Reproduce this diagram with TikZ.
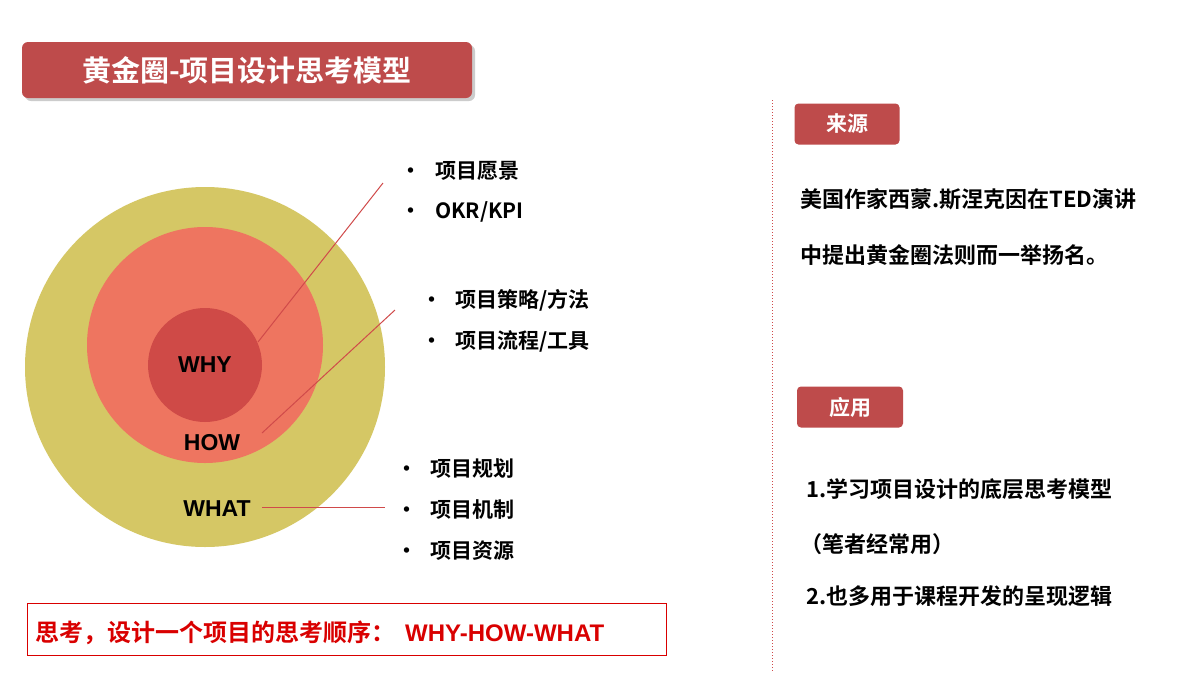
\documentclass[tikz,border=0pt]{standalone}
\usepackage{fontspec}
\setmainfont{Noto Sans CJK SC}[BoldFont={* Bold}]
\newfontfamily\cjkb{Noto Sans CJK SC Bold}
\newfontfamily\latb{Liberation Sans Bold}
\definecolor{dred}{HTML}{BE4B4B}
\definecolor{gold}{HTML}{D5C765}
\definecolor{salmon}{HTML}{EE7560}
\definecolor{core}{HTML}{CF4A47}
\definecolor{lred}{HTML}{D04A4A}
\begin{document}
\begin{tikzpicture}[x=1pt,y=-1pt,
  btn/.style={draw=none,fill=dred,rounded corners=4pt,text=white,font=\cjkb\fontsize{21}{24}\selectfont,inner sep=0pt},
  lbl/.style={font=\latb\fontsize{23}{26}\selectfont,text=black},
  txt/.style={font=\cjkb\fontsize{21}{25}\selectfont,anchor=west,inner sep=0pt},
  rtxt/.style={txt,font=\cjkb\fontsize{22}{25}\selectfont},
  lead/.style={draw=lred,line width=1pt}]
\useasboundingbox[fill=white] (0,0) rectangle (1200,675);
% title
\fill[gray!40,rounded corners=6pt] (25,45) rectangle (475,101);
\node[btn,rounded corners=6pt,minimum width=450,minimum height=56,font=\cjkb\fontsize{29}{32}\selectfont] (title) at (247,70) {黄金圈-项目设计思考模型};
% circles
\node[circle,fill=gold,minimum size=360,inner sep=0] (c1) at (205,367) {};
\node[circle,fill=salmon,minimum size=236,inner sep=0] (c2) at (205,345) {};
\node[circle,fill=core,minimum size=114,inner sep=0] (c3) at (205,365) {};
\node[lbl] (why) at (205,365) {WHY};
\node[lbl] (how) at (212,443) {HOW};
\node[lbl] (what) at (217,509) {WHAT};
\coordinate (a1) at (258,342); \coordinate (b1) at (383,183);
\coordinate (a2) at (262,433); \coordinate (b2) at (395,310);
\coordinate (a3) at (262,507); \coordinate (b3) at (385,507);
\draw[lead] (a1)--(b1); \draw[lead] (a2)--(b2); \draw[lead] (a3)--(b3);
% bullets
\node[txt] (t1) at (400,171) {•\hspace{14pt}项目愿景};
\node[txt] (t2) at (400,212) {•\hspace{14pt}OKR/KPI};
\node[txt] (t3) at (421,300) {•\hspace{13pt}项目策略/方法};
\node[txt] (t4) at (421,341) {•\hspace{13pt}项目流程/工具};
\node[txt] (t5) at (396,469) {•\hspace{13pt}项目规划};
\node[txt] (t6) at (396,510) {•\hspace{13pt}项目机制};
\node[txt] (t7) at (396,551) {•\hspace{13pt}项目资源};
% bottom box
\draw[draw=red!85!black,line width=0.8pt] (27,603) rectangle (666,655);
\node[txt,text=red!85!black,font=\cjkb\fontsize{24}{27}\selectfont] (think) at (35,633) {思考，设计一个项目的思考顺序：\hspace{10pt}{\latb WHY-HOW-WHAT}};
% divider
\draw[lred,dotted,line width=1pt] (772,100) -- (772,672);
% right side
\node[btn,minimum width=105,minimum height=41] (src) at (847,124) {来源};
\node[rtxt] (s1) at (800,199) {美国作家西蒙.斯涅克因在TED演讲};
\node[rtxt] (s2) at (800,255) {中提出黄金圈法则而一举扬名。};
\node[btn,minimum width=106,minimum height=41] (app) at (850,407) {应用};
\node[rtxt] (p1) at (806,489) {1.学习项目设计的底层思考模型};
\node[rtxt] (p2) at (800,544) {（笔者经常用）};
\node[rtxt] (p3) at (806,596) {2.也多用于课程开发的呈现逻辑};
\end{tikzpicture}
\end{document}
